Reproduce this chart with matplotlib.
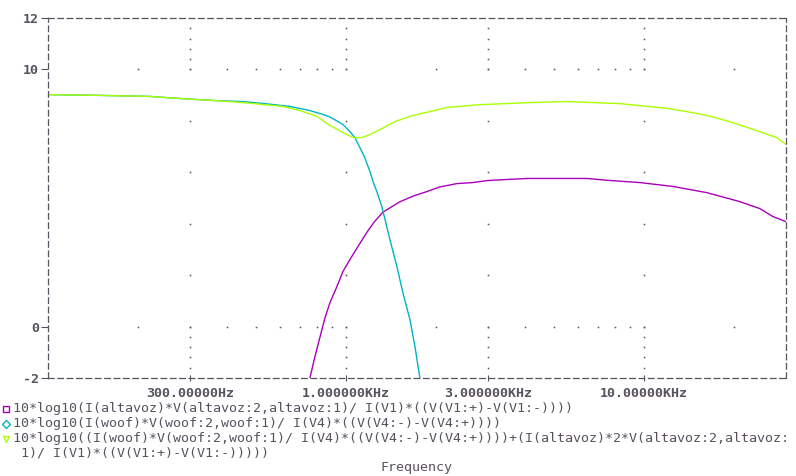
import numpy as np
import matplotlib
matplotlib.use('Agg')
import matplotlib.pyplot as plt
from matplotlib.lines import Line2D

# Values (frequency in Hz, level in dB)
f_sum = [100, 150, 220, 277, 363, 451, 534, 615, 701, 800, 884, 977, 1056,
         1132, 1204, 1301, 1405, 1483, 1678, 1914, 2182, 2817, 4143, 5500, 7118, 8300,
         9930, 11950, 13930, 16640, 19890, 23940, 27940, 30000]
db_sum = [9.02, 8.99, 8.95, 8.87, 8.79, 8.71, 8.63, 8.56, 8.40, 8.17, 7.82, 7.55, 7.35,
          7.35, 7.47, 7.66, 7.87, 8.0, 8.21, 8.36, 8.52, 8.63, 8.71, 8.75, 8.70, 8.67,
          8.58, 8.49, 8.36, 8.19, 7.93, 7.62, 7.35, 7.08]

f_woof = [100, 150, 220, 277, 363, 451, 534, 649, 757, 838, 884, 977, 1032,
          1072, 1114, 1157, 1204, 1233, 1270, 1321, 1405, 1483, 1553, 1640, 1705, 1771]
db_woof = [9.02, 8.99, 8.95, 8.87, 8.79, 8.75, 8.67, 8.56, 8.40, 8.25, 8.15, 7.86, 7.58,
           7.35, 6.96, 6.57, 6.03, 5.64, 5.25, 4.65, 3.38, 2.33, 1.32, 0.27, -0.78, -2.0]

f_tw = [757, 787, 819, 851, 884, 933, 977, 1032, 1097, 1175, 1247, 1331, 1434,
        1515, 1678, 1870, 2066, 2357, 2666, 2997, 3470, 4080, 6438, 7690, 9700,
        12510, 16250, 20990, 24490, 27100, 30000]
db_tw = [-2.0, -1.17, -0.39, 0.35, 0.93, 1.56, 2.14, 2.61, 3.11, 3.66, 4.08, 4.45, 4.68,
         4.85, 5.07, 5.25, 5.43, 5.56, 5.60, 5.68, 5.72, 5.76, 5.76, 5.68, 5.60,
         5.45, 5.21, 4.86, 4.59, 4.28, 4.08]

x_ticks = [300, 1000, 3000, 10000]
x_labels = ['300.00000Hz', '1.000000KHz', '3.000000KHz', '10.00000KHz']
y_ticks = [12, 10, 0, -2]
y_labels = ['12', '10', '0', '-2']

legend_lines = [
    '10*log10(I(altavoz)*V(altavoz:2,altavoz:1)/ I(V1)*((V(V1:+)-V(V1:-))))',
    '10*log10(I(woof)*V(woof:2,woof:1)/ I(V4)*((V(V4:-)-V(V4:+))))',
    '10*log10((I(woof)*V(woof:2,woof:1)/ I(V4)*((V(V4:-)-V(V4:+))))+(I(altavoz)*2*V(altavoz:2,altavoz:\n'
    ' 1)/ I(V1)*((V(V1:+)-V(V1:-)))))',
]

c_tw = '#aa00bb'
c_woof = '#00b4c4'
c_sum = '#aaff00'
gray = '#59515f'
mono = 'DejaVu Sans Mono'

W, H = 796, 476
fig = plt.figure(figsize=(W / 100, H / 100), dpi=100)
ax = fig.add_axes([48 / W, 1 - 378 / H, (786 - 48) / W, (378 - 18) / H])

# grid is drawn as dots, PSpice style
vdots = np.concatenate([np.arange(-1.6, 0.01, 0.4), [2, 4, 6, 8], np.arange(10, 11.61, 0.4)])
for xv in x_ticks:
    ax.plot([xv] * len(vdots), vdots, ls='none', marker='s', ms=1.1, mew=0, color=gray)
minor = [m * d for d in (100, 1000, 10000) for m in range(2, 10) if m * d < 30000] + [1000, 10000]
for yv in (0, 10):
    ax.plot(minor, [yv] * len(minor), ls='none', marker='s', ms=1.1, mew=0, color=gray)

ax.plot(f_tw, db_tw, color=c_tw, lw=1.0)
ax.plot(f_woof, db_woof, color=c_woof, lw=1.0)
ax.plot(f_sum, db_sum, color=c_sum, lw=1.0)

ax.set_xscale('log')
ax.set_xlim(100, 30000)
ax.set_ylim(-2, 12)
ax.set_xticks(x_ticks)
ax.set_xticklabels(x_labels)
ax.xaxis.set_minor_locator(matplotlib.ticker.NullLocator())
ax.set_yticks(y_ticks)
ax.set_yticklabels(y_labels)
ax.tick_params(axis='x', direction='inout', length=5, width=0.8, color=gray, pad=4,
               labelsize=9.6, labelcolor=gray)
ax.tick_params(axis='y', direction='out', length=5, width=0.8, color=gray, pad=1.5,
               labelsize=9.6, labelcolor=gray)
for lab in ax.get_xticklabels() + ax.get_yticklabels():
    lab.set_family(mono)
    lab.set_fontweight('bold')

for sp in ax.spines.values():
    sp.set_color(gray)
    sp.set_linewidth(0.9)
    sp.set_linestyle((0, (4.5, 3)))

# legend block under the axes
markers = [('s', c_tw), ('D', c_woof), ('v', c_sum)]
ys = [409, 424, 439]
for (mk, col), yy, txt in zip(markers, ys, legend_lines):
    fig.add_artist(Line2D([6 / W], [1 - yy / H], marker=mk, ms=5 if mk != 'D' else 4,
                          mfc='none', mec=col, mew=1.0, transform=fig.transFigure))
    fig.text(13 / W, 1 - (yy - 7) / H, txt, ha='left', va='top', family=mono,
             fontsize=9.6, color=gray, linespacing=1.12)

fig.text(417 / W, 1 - 468 / H, 'Frequency', ha='center', va='center', family=mono,
         fontsize=9.6, color=gray)

fig.savefig('out.png', dpi=100, facecolor='white')
